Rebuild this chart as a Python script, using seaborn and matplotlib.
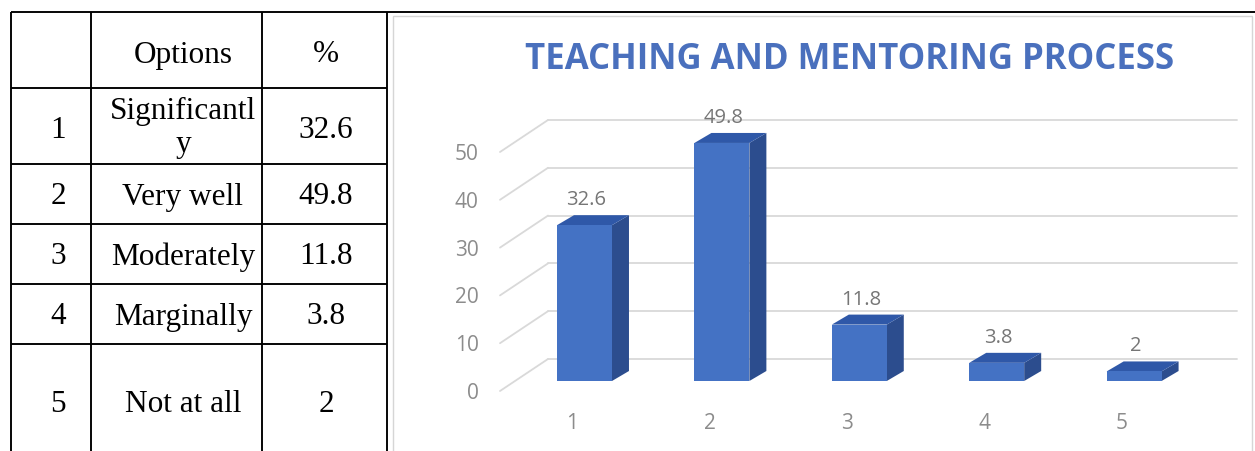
import numpy as np
import pandas as pd
import matplotlib
matplotlib.use("Agg")
import matplotlib.pyplot as plt
import seaborn as sns
from matplotlib.patches import Polygon, Rectangle
from matplotlib.lines import Line2D
from matplotlib.transforms import ScaledTranslation

# ---------------- data ----------------
row_ids = ["1", "2", "3", "4", "5"]
option_names = ["Significantl\ny", "Very well", "Moderately", "Marginally", "Not at all"]
percent_text = ["32.6", "49.8", "11.8", "3.8", "2"]
header = ["", "Options", "%"]

categories = ["1", "2", "3", "4", "5"]
values = [32.6, 49.8, 11.8, 3.8, 2]
yticks = [0, 10, 20, 30, 40, 50]
title = "TEACHING AND MENTORING PROCESS"

# ---------------- style ----------------
W, H, DPI = 1255, 451, 100
sns.set_theme(style="white")
plt.rcParams['font.family'] = ['Open Sans', 'DejaVu Sans']

front_c = "#4472C4"
side_c = "#2C4D8E"
top_c = "#2F58A8"
grid_c = "#d9d9d9"
tick_c = "#8c8c8c"
lab_c = "#767676"
title_c = "#4a70bd"

fig = plt.figure(figsize=(W / DPI, H / DPI), dpi=DPI)
fig.patch.set_facecolor("white")

# overlay in pixel coordinates for table + chart frame
ov = fig.add_axes([0, 0, 1, 1], zorder=0)
ov.set_xlim(0, W)
ov.set_ylim(H, 0)
ov.axis("off")

lw = 1.9 * 72 / DPI
# chart card
ov.add_patch(Rectangle((393, 16), 1252 - 393, 460, facecolor="white",
                       edgecolor="#d6d6d6", lw=1.0, zorder=0))
# table lines
ov.plot([11, W], [12, 12], color="black", lw=lw, solid_capstyle="butt")
for yy in [88, 164, 224, 284, 344]:
    ov.plot([11, 387], [yy, yy], color="black", lw=lw, solid_capstyle="butt")
for xx in [11, 91, 262, 387]:
    ov.plot([xx, xx], [12, H + 5], color="black", lw=lw, solid_capstyle="butt")

serif = ["Liberation Serif", "DejaVu Serif"]
tfs = 22.5
col_x = [58, 183, 326]
header_base = 62.5
row_base = [137.5, 204.5, 264.5, 324.5, 412.5]
for cx, t in zip(col_x, header):
    if t:
        ov.text(cx, header_base, t, ha="center", va="baseline", fontsize=tfs,
                family=serif, color="black")
for i, (rid, opt, pct) in enumerate(zip(row_ids, option_names, percent_text)):
    b = row_base[i]
    ov.text(col_x[0], b, rid, ha="center", va="baseline", fontsize=tfs, family=serif, color="black")
    ov.text(col_x[2], b, pct, ha="center", va="baseline", fontsize=tfs, family=serif, color="black")
    lines = opt.split("\n")
    if len(lines) == 1:
        ov.text(col_x[1], b, opt, ha="center", va="baseline", fontsize=tfs, family=serif, color="black")
    else:
        ov.text(col_x[1], 119, lines[0], ha="center", va="baseline", fontsize=tfs, family=serif, color="black")
        ov.text(col_x[1], 152, lines[1], ha="center", va="baseline", fontsize=tfs, family=serif, color="black")

# title
ov.text(850, 60, title, ha="center", va="center", fontsize=25, fontweight="bold", color=title_c)

# ---------------- bar chart ----------------
c0, sp = 584.5, 137.4          # pixel centre of first bar, spacing
x_left_px, x_right_px = 480, 1250
y0_px, ppu = 381, 4.78
ymax = 60
ax = fig.add_axes([x_left_px / W, (H - y0_px) / H, (x_right_px - x_left_px) / W, ppu * ymax / H], zorder=2)
ax.set_facecolor("none")

df = pd.DataFrame({"cat": categories, "val": values})
sns.barplot(data=df, x="cat", y="val", ax=ax, color=front_c, saturation=1,
            width=0.4, linewidth=0, errorbar=None, zorder=3)
ax.set_xlim((x_left_px - c0) / sp, (x_right_px - c0) / sp)
ax.set_ylim(0, ymax)
ax.set_xlabel("")
ax.set_ylabel("")
sns.despine(ax=ax, left=True, bottom=True)
ax.grid(False)

ax.set_yticks(yticks)
ax.set_yticklabels([str(t) for t in yticks])
ax.tick_params(axis="y", length=0, pad=1, labelsize=15, labelcolor=tick_c)
ax.tick_params(axis="x", length=0, pad=23, labelsize=15, labelcolor=tick_c)
for lab in ax.get_yticklabels():
    lab.set_transform(lab.get_transform() + ScaledTranslation(0, -10 / DPI, fig.dpi_scale_trans))
for lab in ax.get_xticklabels():
    lab.set_transform(lab.get_transform() + ScaledTranslation(-12 / DPI, 0, fig.dpi_scale_trans))


def shift(x, y, dx, dy):
    d = ax.transData.transform((x, y))
    return tuple(ax.transData.inverted().transform((d[0] + dx, d[1] + dy)))


# back wall gridlines and left-wall diagonals
wall_front_x = (500 - c0) / sp
wall_x = (548 - c0) / sp
wall_right = (1237 - c0) / sp
for v in yticks:
    a = shift(wall_x, v, 0, 22)
    b = shift(wall_right, v, 0, 22)
    ax.add_line(Line2D([a[0], b[0]], [a[1], b[1]], color=grid_c, lw=1.3, zorder=1))
    f = shift(wall_front_x, v, 0, -10)
    ax.add_line(Line2D([f[0], a[0]], [f[1], a[1]], color=grid_c, lw=1.3, zorder=1, clip_on=False))

# 3-D faces and value labels
ddx, ddy = 17, 10
bars = list(ax.patches)
for p, v in zip(bars, values):
    x0, w, h = p.get_x(), p.get_width(), p.get_height()
    side = [(x0 + w, 0), (x0 + w, h), shift(x0 + w, h, ddx, ddy), shift(x0 + w, 0, ddx, ddy)]
    top = [(x0, h), (x0 + w, h), shift(x0 + w, h, ddx, ddy), shift(x0, h, ddx, ddy)]
    ax.add_patch(Polygon(side, closed=True, facecolor=side_c, edgecolor="none", zorder=2.9))
    ax.add_patch(Polygon(top, closed=True, facecolor=top_c, edgecolor="none", zorder=2.9))
    ax.annotate(f"{v:g}", xy=(x0 + w / 2, h), xytext=(2, 25), textcoords="offset pixels",
                ha="center", va="center", fontsize=14.5, color=lab_c, zorder=4)

fig.savefig("out.png", dpi=DPI)
